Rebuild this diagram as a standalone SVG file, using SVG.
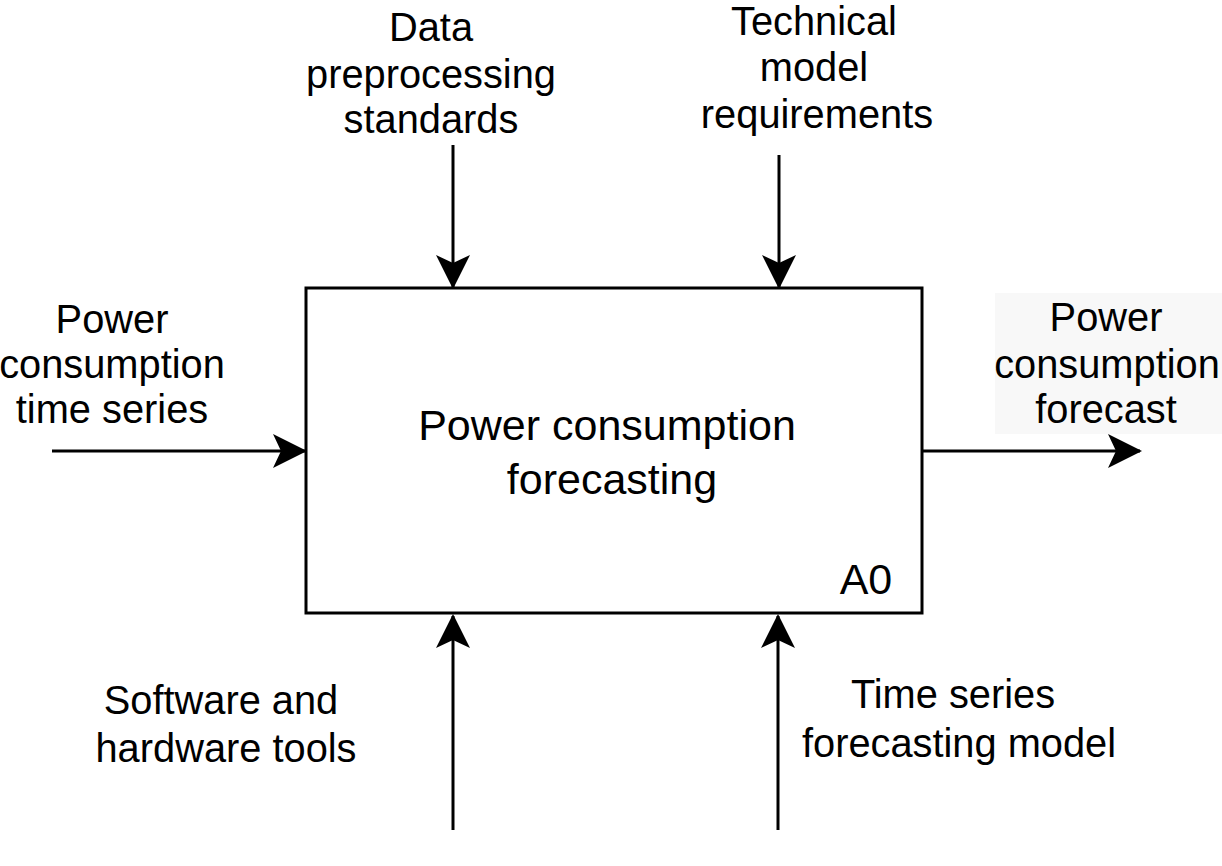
<svg xmlns="http://www.w3.org/2000/svg" width="1222" height="866" viewBox="0 0 1222 866">
<style>
.t{font-family:"Liberation Sans",Arial,sans-serif;font-size:39.8px;fill:#000;text-anchor:middle}
.m{font-size:43px}
.ln{stroke:#000;stroke-width:3;fill:none}
</style>
<defs>
<marker id="ah" viewBox="0 0 34 34" refX="32" refY="17" markerWidth="34" markerHeight="34" markerUnits="userSpaceOnUse" orient="auto">
<path d="M0,0 L34,17 L0,34 L8,17 Z" fill="#000"/>
</marker>
</defs>
<rect width="1222" height="866" fill="#fff"/>
<g id="node-a0">
<rect x="306" y="288" width="616" height="325" fill="#fff" stroke="#000" stroke-width="3"/>
<text class="t m" x="607" y="440">Power consumption</text>
<text class="t m" x="612" y="494">forecasting</text>
<text class="t m" x="866" y="594">A0</text>
</g>
<g id="label-input">
<text class="t" x="112" y="333">Power</text>
<text class="t" x="112" y="378">consumption</text>
<text class="t" x="112" y="423">time series</text>
</g>
<g id="label-output">
<rect x="995" y="293" width="227" height="141" fill="#f8f8f8"/>
<text class="t" x="1106" y="331">Power</text>
<text class="t" x="1107" y="378">consumption</text>
<text class="t" x="1106" y="423">forecast</text>
</g>
<g id="label-control1">
<text class="t" x="431" y="41">Data</text>
<text class="t" x="431" y="88">preprocessing</text>
<text class="t" x="431" y="133">standards</text>
</g>
<g id="label-control2">
<text class="t" x="814" y="35">Technical</text>
<text class="t" x="814" y="81">model</text>
<text class="t" x="817" y="128">requirements</text>
</g>
<g id="label-mech1">
<text class="t" x="221" y="714">Software and</text>
<text class="t" x="226" y="762">hardware tools</text>
</g>
<g id="label-mech2">
<text class="t" x="953" y="708">Time series</text>
<text class="t" x="959" y="757">forecasting model</text>
</g>
<g id="connectors">
<line class="ln" x1="453" y1="145" x2="453" y2="287" marker-end="url(#ah)"/>
<line class="ln" x1="779" y1="155" x2="779" y2="287" marker-end="url(#ah)"/>
<line class="ln" x1="52" y1="451" x2="305" y2="451" marker-end="url(#ah)"/>
<line class="ln" x1="922" y1="451" x2="1140" y2="451" marker-end="url(#ah)"/>
<line class="ln" x1="453" y1="830" x2="453" y2="616" marker-end="url(#ah)"/>
<line class="ln" x1="778" y1="830" x2="778" y2="616" marker-end="url(#ah)"/>
</g>
</svg>
